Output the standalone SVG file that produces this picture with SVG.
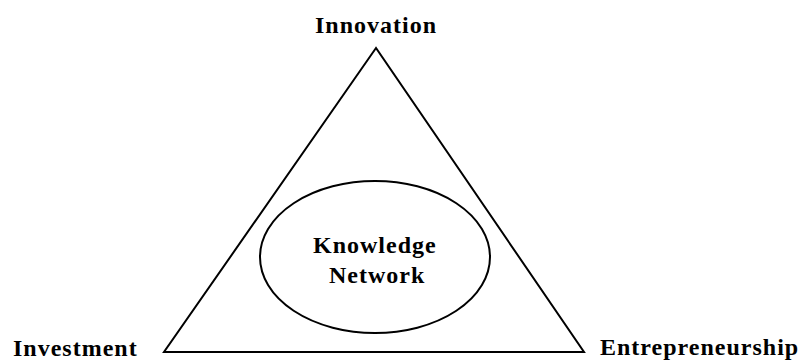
<svg xmlns="http://www.w3.org/2000/svg" width="803" height="362" viewBox="0 0 803 362">
<style>
.lbl{font-family:"Liberation Serif","Times New Roman",serif;font-weight:bold;font-size:24px;letter-spacing:1px;fill:#000}
.shape{fill:none;stroke:#000;stroke-width:2}
</style>
<rect width="803" height="362" fill="#fff"/>
<g id="triangle">
<polygon class="shape" points="376,48 164,352 584,352"/>
</g>
<g id="innovation"><text class="lbl" x="315" y="33">Innovation</text></g>
<g id="investment"><text class="lbl" x="13" y="356">Investment</text></g>
<g id="entrepreneurship"><text class="lbl" x="600" y="355">Entrepreneurship</text></g>
<g id="knowledge-network">
<ellipse class="shape" cx="375" cy="257" rx="115" ry="76"/>
<text class="lbl" x="313" y="253">Knowledge</text>
<text class="lbl" x="329" y="283">Network</text>
</g>
<g id="connectors"></g>
</svg>
